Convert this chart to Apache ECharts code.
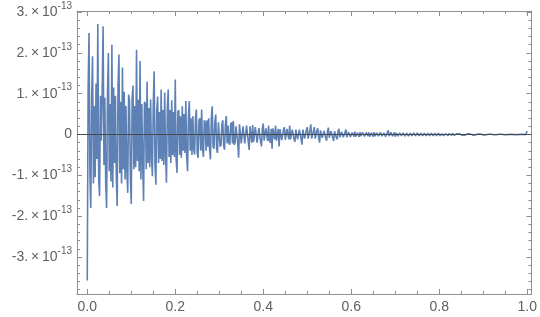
<!DOCTYPE html>
<html><head><meta charset="utf-8">
<script src="https://cdn.jsdelivr.net/npm/echarts@6/dist/echarts.min.js"></script>
<style>html,body{margin:0;padding:0;background:#fff}#c{width:540px;height:317px}</style>
</head><body><div id="c"></div>
<script>
// y values in units of 1e-13, sampled evenly over x in [0, 1] (501 samples)
const valuesE13 = [
 -3.58, 1.10, 2.49, -0.95, -1.80, 0.85, 1.92, -1.20, 0.70, -1.05,
 1.25, -0.60, 2.71, -1.10, -1.51, 0.95, -0.15, 1.05, 2.65, -0.75,
 0.90, -1.25, -1.80, 1.00, 2.00, -0.90, 0.75, -1.15, 2.20, -1.30,
 1.15, -0.70, 0.95, -1.00, -1.75, 1.20, 1.96, -0.95, 0.80, -1.20,
 1.64, -0.85, 1.05, -1.10, 0.70, -0.90, -1.43, 0.98, 0.85, -1.05,
 -1.70, 0.90, 1.20, -0.85, 0.70, -0.80, 2.08, -0.65, 0.85, -0.90,
 1.80, -1.10, 0.75, -0.70, -1.63, 0.80, 0.75, -0.85, 1.30, -0.70,
 0.65, -0.80, 0.86, -0.55, -1.02, 0.70, 1.55, -0.75, -1.23, 0.60,
 0.93, -0.70, 0.55, -0.60, 1.10, -0.65, 0.60, -0.75, 1.03, -0.50,
 -1.18, 0.65, 1.10, -0.55, 0.60, -0.70, 0.84, -0.50, 0.55, -0.55,
 1.35, -0.60, -0.94, 0.55, 0.60, -0.50, 0.45, -0.57, 0.69, -0.40,
 0.50, -0.45, 0.82, -0.55, -0.90, 0.45, 0.82, -0.40, 0.40, -0.50,
 0.45, -0.35, -0.49, 0.40, 0.61, -0.45, -0.57, 0.35, 0.40, -0.40,
 0.61, -0.35, -0.55, 0.35, 0.30, -0.40, 0.35, -0.30, 0.40, -0.35,
 -0.61, 0.40, 0.69, -0.30, -0.35, 0.30, 0.49, -0.35, -0.45, 0.30,
 0.30, -0.30, -0.25, 0.25, 0.35, -0.28, -0.37, 0.25, 0.45, -0.22,
 0.22, -0.20, -0.25, 0.25, 0.30, -0.22, 0.33, -0.25, -0.20, 0.20,
 0.22, -0.20, -0.57, 0.25, 0.28, -0.22, -0.18, 0.20, 0.18, -0.22,
 -0.20, 0.22, 0.20, -0.18, -0.38, 0.20, 0.18, -0.20, 0.23, -0.18,
 -0.20, 0.18, 0.15, -0.20, -0.18, 0.16, 0.20, -0.18, -0.29, 0.15,
 0.27, -0.15, -0.15, 0.15, 0.18, -0.16, 0.22, -0.14, -0.20, 0.14,
 -0.35, 0.15, 0.15, -0.12, 0.22, -0.15, -0.18, 0.14, -0.29, 0.13,
 0.15, -0.14, -0.12, 0.12, 0.18, -0.13, -0.15, 0.14, 0.12, -0.12,
 0.22, -0.12, -0.15, 0.12, 0.10, -0.12, -0.18, 0.12, 0.14, -0.12,
 -0.12, 0.12, 0.16, -0.10, -0.25, 0.12, 0.12, -0.10, -0.14, 0.11,
 0.18, -0.10, -0.12, 0.10, 0.25, -0.10, -0.10, 0.09, 0.18, -0.10,
 -0.14, 0.10, 0.15, -0.09, -0.20, 0.10, 0.14, -0.08, -0.12, 0.09,
 0.13, -0.09, -0.15, 0.08, 0.17, -0.08, -0.10, 0.08, 0.12, -0.08,
 -0.16, 0.08, 0.10, -0.07, -0.12, 0.08, 0.14, -0.07, -0.09, 0.07,
 0.11, -0.07, -0.10, 0.06, 0.12, -0.07, -0.08, 0.06, 0.10, -0.06,
 -0.06, 0.05, 0.04, -0.05, 0.07, -0.05, -0.05, 0.04, 0.04, -0.06,
 0.06, -0.04, -0.07, 0.05, 0.06, -0.05, -0.04, 0.05, 0.03, -0.04,
 0.05, -0.05, -0.06, 0.04, 0.04, -0.05, 0.06, -0.04, -0.05, 0.04,
 0.07, -0.04, -0.05, 0.05, 0.03, -0.04, -0.06, 0.04, 0.05, -0.05,
 -0.04, 0.05, 0.10, -0.04, -0.05, 0.05, 0.06, -0.04, -0.04, 0.05,
 -0.05, 0.04, 0.05, -0.04, -0.05, 0.04, 0.04, -0.03, -0.03, 0.04,
 0.05, -0.04, -0.05, 0.03, 0.04, -0.04, -0.04, 0.03, 0.05, -0.03,
 -0.04, 0.04, 0.04, -0.03, -0.03, 0.04, 0.04, -0.03, -0.04, 0.03,
 0.03, -0.03, -0.04, 0.03, 0.05, -0.03, -0.04, 0.03, 0.03, -0.03,
 -0.04, 0.03, 0.04, -0.03, -0.03, 0.03, 0.03, -0.03, -0.04, 0.03,
 0.03, -0.03, -0.03, 0.02, 0.04, -0.03, -0.03, 0.02, 0.03, -0.02,
 -0.03, 0.02, 0.03, -0.02, -0.02, 0.03, 0.02, -0.02, -0.03, 0.02,
 0.02, -0.02, -0.02, 0.02, 0.02, -0.02, -0.02, 0.015, 0.02, -0.02,
 -0.02, 0.015, 0.02, -0.015, -0.02, 0.015, 0.015, -0.015, -0.015, 0.01,
 0.015, -0.01, -0.015, 0.01, 0.01, -0.01, -0.01, 0.01, 0.01, -0.01,
 -0.01, 0.01, 0.008, -0.008, -0.01, 0.008, 0.008, -0.008, -0.008, 0.006,
 0.008, -0.006, -0.006, 0.006, 0.006, -0.006, -0.006, 0.005, 0.006, -0.005,
 -0.005, 0.005, 0.005, -0.005, -0.005, 0.004, 0.005, -0.004, -0.004, 0.004,
 0.004, -0.004, -0.004, 0.004, 0.004, -0.004, -0.004, 0.003, 0.004, -0.003,
 -0.003, 0.003, 0.003, -0.003, -0.003, 0.003, 0.003, -0.003, -0.003, 0.004,
 0.08
];
const xStart = 0;
const xEnd = 1;
const xMajorTicks = [0, 0.2, 0.4, 0.6, 0.8, 1.0];
const xMinorTicks = [0.05, 0.1, 0.15, 0.25, 0.3, 0.35, 0.45, 0.5, 0.55, 0.65, 0.7, 0.75, 0.85, 0.9, 0.95];
const yMajorTicks = [-3, -2, -1, 0, 1, 2, 3];
const yMinorTicks = [-3.8, -3.6, -3.4, -3.2, -2.8, -2.6, -2.4, -2.2, -1.8, -1.6, -1.4, -1.2,
  -0.8, -0.6, -0.4, -0.2, 0.2, 0.4, 0.6, 0.8, 1.2, 1.4, 1.6, 1.8, 2.2, 2.4, 2.6, 2.8];
const yExponent = '-13';

const n = valuesE13.length;
const seriesData = valuesE13.map((v, i) => [xStart + (xEnd - xStart) * i / (n - 1), v]);

const X_MIN = -0.0233, X_MAX = 1.0095;
const Y_MIN = -3.909, Y_MAX = 3.027;
const FRAME = '#8f8f8f';
const TEXT = '#606060';
const FONT = '"Liberation Sans", Arial, sans-serif';

function xAx(pos, ticks, len, showLine, showLabel) {
  return {
    type: 'value', position: pos, min: X_MIN, max: X_MAX,
    axisLine: { show: showLine, onZero: false, lineStyle: { color: FRAME, width: 1 } },
    axisTick: { show: true, inside: true, length: len, customValues: ticks, lineStyle: { color: FRAME, width: 1 } },
    axisLabel: showLabel ? {
      show: true, customValues: ticks, margin: 6, color: TEXT, fontSize: 14, fontFamily: FONT,
      formatter: v => Number(v).toFixed(1)
    } : { show: false },
    splitLine: { show: false }, minorTick: { show: false }
  };
}
function yAx(pos, ticks, len, showLine, showLabel) {
  return {
    type: 'value', position: pos, min: Y_MIN, max: Y_MAX,
    axisLine: { show: showLine, onZero: false, lineStyle: { color: FRAME, width: 1 } },
    axisTick: { show: true, inside: true, length: len, customValues: ticks, lineStyle: { color: FRAME, width: 1 } },
    axisLabel: showLabel ? {
      show: true, customValues: ticks, margin: 5, color: TEXT, fontFamily: FONT,
      formatter: v => {
        const r = Math.round(v);
        if (r === 0) return '{b|0}';
        return '{b|' + r + '.\u2009\u00d7\u200910}{s|' + yExponent + '}';
      },
      rich: {
        b: { fontSize: 14, color: TEXT, fontFamily: FONT },
        s: { fontSize: 10, color: TEXT, fontFamily: FONT, padding: [0, 0, 12, 0] }
      }
    } : { show: false },
    splitLine: { show: false }, minorTick: { show: false }
  };
}

const chart = echarts.init(document.getElementById('c'), null, { renderer: 'canvas' });
chart.setOption({
  animation: false,
  backgroundColor: '#ffffff',
  grid: { left: 77, right: 6, top: 11, bottom: 23, containLabel: false },
  xAxis: [
    xAx('bottom', xMajorTicks, 5, true, true),
    xAx('bottom', xMinorTicks, 3, false, false),
    xAx('top', xMajorTicks, 5, true, false),
    xAx('top', xMinorTicks, 3, false, false)
  ],
  yAxis: [
    yAx('left', yMajorTicks, 5, true, true),
    yAx('left', yMinorTicks, 3, false, false),
    yAx('right', yMajorTicks, 5, true, false),
    yAx('right', yMinorTicks, 3, false, false)
  ],
  series: [{
    type: 'line', xAxisIndex: 0, yAxisIndex: 0,
    data: seriesData, showSymbol: false, symbol: 'none',
    lineStyle: { color: '#5e81b5', width: 1.6 },
    markLine: {
      silent: true, symbol: ['none', 'none'], label: { show: false },
      lineStyle: { color: '#4a4a4a', width: 1, type: 'solid' },
      data: [{ yAxis: 0 }], animation: false
    }
  }]
});
</script></body></html>
